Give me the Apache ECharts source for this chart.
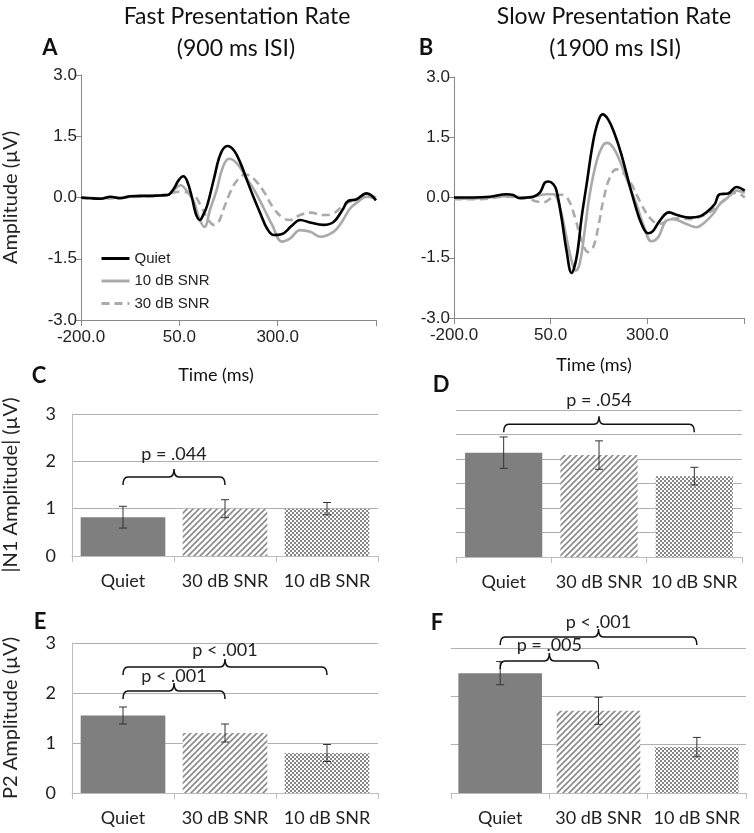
<!DOCTYPE html>
<html><head><meta charset="utf-8">
<script src="https://cdn.jsdelivr.net/npm/echarts@6/dist/echarts.min.js"></script>
<style>html,body{margin:0;padding:0;background:#fff}#c{width:754px;height:833px}</style>
</head><body><div id="c"></div>
<script>
// ---------- ERP waveforms (time in ms, amplitude in µV) ----------
const tA_quiet = [-200,-175,-150,-125,-100,-75,-50,-25,0,20,35,48,60,70,82,92,102,112,121,138,155,172,189,206,222,239,256,273,290,310,335,357,385,416,442,465,480,500,526,550];
const vA_quiet = [0,-0.02,-0.03,0.02,-0.02,0.03,0.04,0.04,0.05,0.06,0.2,0.42,0.52,0.4,0.0,-0.4,-0.55,-0.4,-0.19,0.46,1.07,1.26,1.15,0.83,0.42,0.0,-0.39,-0.76,-0.92,-0.9,-0.7,-0.55,-0.62,-0.67,-0.6,-0.3,-0.08,-0.05,0.1,-0.07];
const tA_10 = [-200,-150,-100,-50,0,20,36,53,70,87,100,114,128,146,159,176,197,222,243,265,286,311,332,357,383,408,442,463,484,505,526,550];
const vA_10 = [0,-0.02,0.0,0.03,0.05,0.06,0.18,0.3,0.15,-0.1,-0.5,-0.72,-0.3,0.22,0.7,0.95,0.83,0.46,0.14,-0.27,-0.67,-1.08,-1.0,-0.8,-0.84,-0.96,-0.84,-0.6,-0.27,-0.1,0.02,-0.02];
const tA_30 = [-200,-150,-100,-50,0,25,53,87,104,121,138,150,163,180,197,218,239,265,290,315,332,357,383,416,442,467,492,526,550];
const vA_30 = [-0.02,-0.03,0.0,0.02,0.05,0.1,0.14,0.05,-0.19,-0.5,-0.67,-0.6,-0.27,0.14,0.42,0.56,0.46,0.14,-0.27,-0.51,-0.55,-0.43,-0.37,-0.43,-0.39,-0.19,-0.07,0.06,0];

const tB_quiet = [-200,-150,-107,-64,-47,-30,-12,5,22,35,44,57,65,78,91,104,117,130,143,160,173,184,199,216,233,250,268,285,302,315,332,356,375,410,435,453,474,487,509,530,552];
const vB_quiet = [0,0,0.02,0.08,0.06,-0.02,0,0.02,0.12,0.37,0.4,0.33,0.17,-0.5,-1.32,-1.88,-1.49,-0.5,0.33,1.4,1.9,2.07,1.94,1.57,1.07,0.45,-0.17,-0.66,-0.89,-0.83,-0.58,-0.37,-0.43,-0.5,-0.47,-0.37,-0.17,0.08,0.1,0.26,0.17];
const tB_10 = [-200,-133,-64,-12,39,57,74,91,104,115,125,138,151,169,184,196,212,229,250,272,289,311,328,349,367,392,427,448,470,487,504,530,552];
const vB_10 = [-0.03,-0.02,0.03,0,0.08,0.08,-0.25,-1.0,-1.57,-1.82,-1.65,-0.83,0.08,0.91,1.28,1.36,1.24,0.91,0.37,-0.17,-0.66,-1.09,-0.99,-0.58,-0.54,-0.62,-0.74,-0.62,-0.41,-0.17,-0.04,0.17,0.12];
const tB_30 = [-200,-133,-64,-12,14,31,57,78,95,113,130,147,160,173,186,203,220,237,259,280,306,332,358,384,410,453,478,496,530,552];
const vB_30 = [-0.04,-0.04,0.02,-0.02,-0.1,-0.12,0.02,0.07,-0.04,-0.5,-1.07,-1.36,-1.24,-0.74,-0.08,0.5,0.7,0.62,0.33,-0.08,-0.5,-0.66,-0.54,-0.52,-0.54,-0.41,-0.25,-0.08,0.12,0];

const waveTicks = [-200, 50, 300, 550];
const ampTicks = [-3, -1.5, 0, 1.5, 3];

// ---------- Bar panels ----------
const categories = ['Quiet', '30 dB SNR', '10 dB SNR'];
const n1Fast = [0.82, 1.0, 1.0];
const n1FastErr = [0.23, 0.19, 0.13];
const n1Slow = [2.13, 2.08, 1.65];
const n1SlowErr = [0.32, 0.29, 0.18];
const p2Fast = [1.55, 1.2, 0.8];
const p2FastErr = [0.17, 0.18, 0.17];
const p2Slow = [2.48, 1.7, 0.95];
const p2SlowErr = [0.24, 0.28, 0.2];

// brackets: [fromCategory, toCategory, lineLevel, textLevel]
const bracketsC = [[0, 1, 1.67, 2.15]];
const bracketLabelsC = ['p = .044'];
const bracketsD = [[0, 2, 2.71, 3.2]];
const bracketLabelsD = ['p = .054'];
const bracketsE = [[0, 2, 2.52, 2.85], [0, 1, 2.04, 2.33]];
const bracketLabelsE = ['p < .001', 'p < .001'];
const bracketsF = [[0, 2, 3.23, 3.53], [0, 1, 2.73, 3.06]];
const bracketLabelsF = ['p < .001', 'p = .005'];

// ---------- helpers ----------
const SANS = 'Lato';
const ARIAL = 'Liberation Sans';
function pairs(t, v) { return t.map((x, i) => [x, v[i]]); }

function hatchPattern() {
  const s = 6, c = document.createElement('canvas');
  c.width = s; c.height = s;
  const g = c.getContext('2d');
  g.fillStyle = '#fff'; g.fillRect(0, 0, s, s);
  g.strokeStyle = '#8a8a8a'; g.lineWidth = 1.6;
  g.beginPath();
  g.moveTo(-1, s + 1); g.lineTo(s + 1, -1);
  g.moveTo(-1, 1); g.lineTo(1, -1);
  g.moveTo(s - 1, s + 1); g.lineTo(s + 1, s - 1);
  g.stroke();
  return c;
}
function checkerPattern() {
  const c = document.createElement('canvas');
  c.width = 4; c.height = 4;
  const g = c.getContext('2d');
  g.fillStyle = '#fff'; g.fillRect(0, 0, 4, 4);
  g.fillStyle = '#858585';
  g.fillRect(0, 0, 2, 2); g.fillRect(2, 2, 2, 2);
  return c;
}
const fills = ['#7f7f7f', { image: hatchPattern(), repeat: 'repeat' }, { image: checkerPattern(), repeat: 'repeat' }];

function errRender(params, api) {
  const x = api.value(0);
  const p1 = api.coord([x, api.value(1)]), p2 = api.coord([x, api.value(2)]);
  const cap = 4, st = { stroke: '#333', lineWidth: 1 };
  return { type: 'group', children: [
    { type: 'line', shape: { x1: p1[0], y1: p1[1], x2: p2[0], y2: p2[1] }, style: st },
    { type: 'line', shape: { x1: p1[0] - cap, y1: p1[1], x2: p1[0] + cap, y2: p1[1] }, style: st },
    { type: 'line', shape: { x1: p2[0] - cap, y1: p2[1], x2: p2[0] + cap, y2: p2[1] }, style: st }
  ]};
}
function braceRender(labels) {
  return function (params, api) {
    const a = api.coord([api.value(0), api.value(2)]);
    const b = api.coord([api.value(1), api.value(2)]);
    const tp = api.coord([api.value(0), api.value(3)]);
    const x0 = a[0], x1 = b[0], y = a[1], xc = (x0 + x1) / 2, h = 8, t = 8, r = 5;
    const d = 'M' + x0 + ' ' + (y + h) + ' Q' + x0 + ' ' + y + ' ' + (x0 + r) + ' ' + y +
      ' L' + (xc - r) + ' ' + y + ' Q' + xc + ' ' + y + ' ' + xc + ' ' + (y - t) +
      ' Q' + xc + ' ' + y + ' ' + (xc + r) + ' ' + y + ' L' + (x1 - r) + ' ' + y +
      ' Q' + x1 + ' ' + y + ' ' + x1 + ' ' + (y + h);
    return { type: 'group', children: [
      { type: 'path', shape: { pathData: d }, style: { stroke: '#111', fill: 'none', lineWidth: 1.5 } },
      { type: 'text', x: xc, y: tp[1], style: { text: labels[params.dataIndex], align: 'center', verticalAlign: 'middle', font: '18px ' + SANS, fill: '#222' } }
    ]};
  };
}

// ---------- grids ----------
const grids = [
  { left: 80, top: 75, width: 296, height: 245 },   // A
  { left: 454, top: 77, width: 290, height: 241 },  // B
  { left: 71, top: 414, width: 307, height: 142 },  // C
  { left: 456, top: 410, width: 286, height: 147 }, // D
  { left: 71, top: 643, width: 307, height: 150 },  // E
  { left: 451, top: 648, width: 295, height: 145 }  // F
];

function waveX(gi) {
  return { type: 'value', gridIndex: gi, min: -200, max: 550, interval: 250,
    axisLine: { show: true, onZero: false, lineStyle: { color: '#888', width: 1 } },
    axisTick: { show: true, length: 6, lineStyle: { color: '#888' } },
    splitLine: { show: false },
    axisLabel: { fontFamily: ARIAL, fontSize: 17, color: '#222', margin: 9,
      formatter: v => v === waveTicks[3] ? '' : v.toFixed(1) } };
}
function waveY(gi) {
  return { type: 'value', gridIndex: gi, min: ampTicks[0], max: ampTicks[4], interval: 1.5,
    axisLine: { show: true, onZero: false, lineStyle: { color: '#888', width: 1 } },
    axisTick: { show: true, length: 5, lineStyle: { color: '#888' } },
    splitLine: { show: false },
    axisLabel: { fontFamily: ARIAL, fontSize: 17, color: '#222', margin: 4, formatter: v => v.toFixed(1) } };
}
function barX(gi) {
  return { type: 'category', gridIndex: gi, data: categories,
    axisLine: { show: true, onZero: false, lineStyle: { color: '#bdbdbd', width: 1 } },
    axisTick: { show: true, length: 6, lineStyle: { color: '#bdbdbd' } },
    axisLabel: { interval: 0, fontFamily: SANS, fontSize: 18, color: '#222', margin: 16 } };
}
function barY(gi, showLab, interval) {
  return { type: 'value', gridIndex: gi, min: 0, max: 3, interval: interval,
    axisLine: { show: showLab, onZero: false, lineStyle: { color: '#bdbdbd', width: 1 } },
    axisTick: { show: false },
    splitLine: { show: true, lineStyle: { color: '#b0b0b0', width: 1 } },
    axisLabel: { show: showLab, fontFamily: SANS, fontSize: 18, color: '#222', margin: 16 } };
}

function waveSeries(name, gi, t, v, color, dashed, z) {
  return { type: 'line', name: name, xAxisIndex: gi, yAxisIndex: gi, data: pairs(t, v),
    symbol: 'none', smooth: 0.4, z: z,
    lineStyle: { color: color, width: 2.6, type: dashed ? [8, 5] : 'solid' },
    itemStyle: { color: color } };
}
function barSeries(gi, vals, gap) {
  return { type: 'bar', xAxisIndex: gi, yAxisIndex: gi, barCategoryGap: gap, silent: true,
    data: vals.map((v, i) => ({ value: v, itemStyle: { color: fills[i] } })) };
}
function errSeries(gi, vals, errs) {
  return { type: 'custom', xAxisIndex: gi, yAxisIndex: gi, renderItem: errRender, z: 5, silent: true,
    encode: { x: 0, y: [1, 2] },
    data: vals.map((v, i) => [i, v - errs[i], v + errs[i]]) };
}
function braceSeries(gi, br, labels) {
  return { type: 'custom', xAxisIndex: gi, yAxisIndex: gi, renderItem: braceRender(labels), z: 6, silent: true,
    clip: false, encode: { x: [0, 1], y: [2, 3] }, data: br };
}

const txt = (text, x, y, size, weight, family) => ({
  type: 'text', x: x, y: y,
  style: { text: text, font: (weight || 'normal') + ' ' + size + 'px ' + (family || SANS), fill: '#111', align: 'center', verticalAlign: 'middle' }
});
const yName = { fontFamily: SANS, fontSize: 20, color: '#222' };

const option = {
  animation: false,
  backgroundColor: '#fff',
  grid: grids,
  xAxis: [waveX(0), waveX(1), barX(2), barX(3), barX(4), barX(5)],
  yAxis: [
    Object.assign(waveY(0), { name: 'Amplitude (µV)', nameLocation: 'middle', nameGap: 60, nameRotate: 90, nameTextStyle: yName }),
    waveY(1),
    Object.assign(barY(2, true, 1), { name: '|N1 Amplitude| (µV)', nameLocation: 'middle', nameGap: 51, nameRotate: 90, nameTextStyle: yName }),
    barY(3, false, 0.5),
    Object.assign(barY(4, true, 1), { name: 'P2 Amplitude (µV)', nameLocation: 'middle', nameGap: 51, nameRotate: 90, nameTextStyle: yName }),
    barY(5, false, 1)
  ],
  legend: {
    data: ['Quiet', '10 dB SNR', '30 dB SNR'], orient: 'vertical', left: 95, top: 246,
    itemWidth: 28, itemHeight: 14, itemGap: 7.5, selectedMode: false,
    itemStyle: { opacity: 0 },
    lineStyle: { width: 3 },
    textStyle: { fontFamily: ARIAL, fontSize: 15, color: '#222' }
  },
  graphic: [
    txt('Fast Presentation Rate', 237, 17, 23),
    txt('(900 ms ISI)', 236, 49, 23),
    txt('Slow Presentation Rate', 614, 17, 23),
    txt('(1900 ms ISI)', 615, 49, 23),
    txt('A', 50, 48, 22, 'bold'),
    txt('B', 426, 48, 22, 'bold'),
    txt('Time (ms)', 216, 375, 18),
    txt('Time (ms)', 594, 365, 18),
    txt('C', 39, 376, 22, 'bold'),
    txt('D', 441, 385, 22, 'bold'),
    txt('E', 40, 622, 22, 'bold'),
    txt('F', 437, 623, 22, 'bold')
  ],
  series: [
    waveSeries('30 dB SNR', 0, tA_30, vA_30, '#aaaaaa', true, 2),
    waveSeries('10 dB SNR', 0, tA_10, vA_10, '#aaaaaa', false, 3),
    waveSeries('Quiet', 0, tA_quiet, vA_quiet, '#000000', false, 4),
    waveSeries('30 dB SNR', 1, tB_30, vB_30, '#aaaaaa', true, 2),
    waveSeries('10 dB SNR', 1, tB_10, vB_10, '#aaaaaa', false, 3),
    waveSeries('Quiet', 1, tB_quiet, vB_quiet, '#000000', false, 4),
    barSeries(2, n1Fast, '17%'), errSeries(2, n1Fast, n1FastErr), braceSeries(2, bracketsC, bracketLabelsC),
    barSeries(3, n1Slow, '19%'), errSeries(3, n1Slow, n1SlowErr), braceSeries(3, bracketsD, bracketLabelsD),
    barSeries(4, p2Fast, '17%'), errSeries(4, p2Fast, p2FastErr), braceSeries(4, bracketsE, bracketLabelsE),
    barSeries(5, p2Slow, '15%'), errSeries(5, p2Slow, p2SlowErr), braceSeries(5, bracketsF, bracketLabelsF)
  ]
};
const chart = echarts.init(document.getElementById('c'), null, { renderer: 'canvas' });
chart.setOption(option);
</script></body></html>
